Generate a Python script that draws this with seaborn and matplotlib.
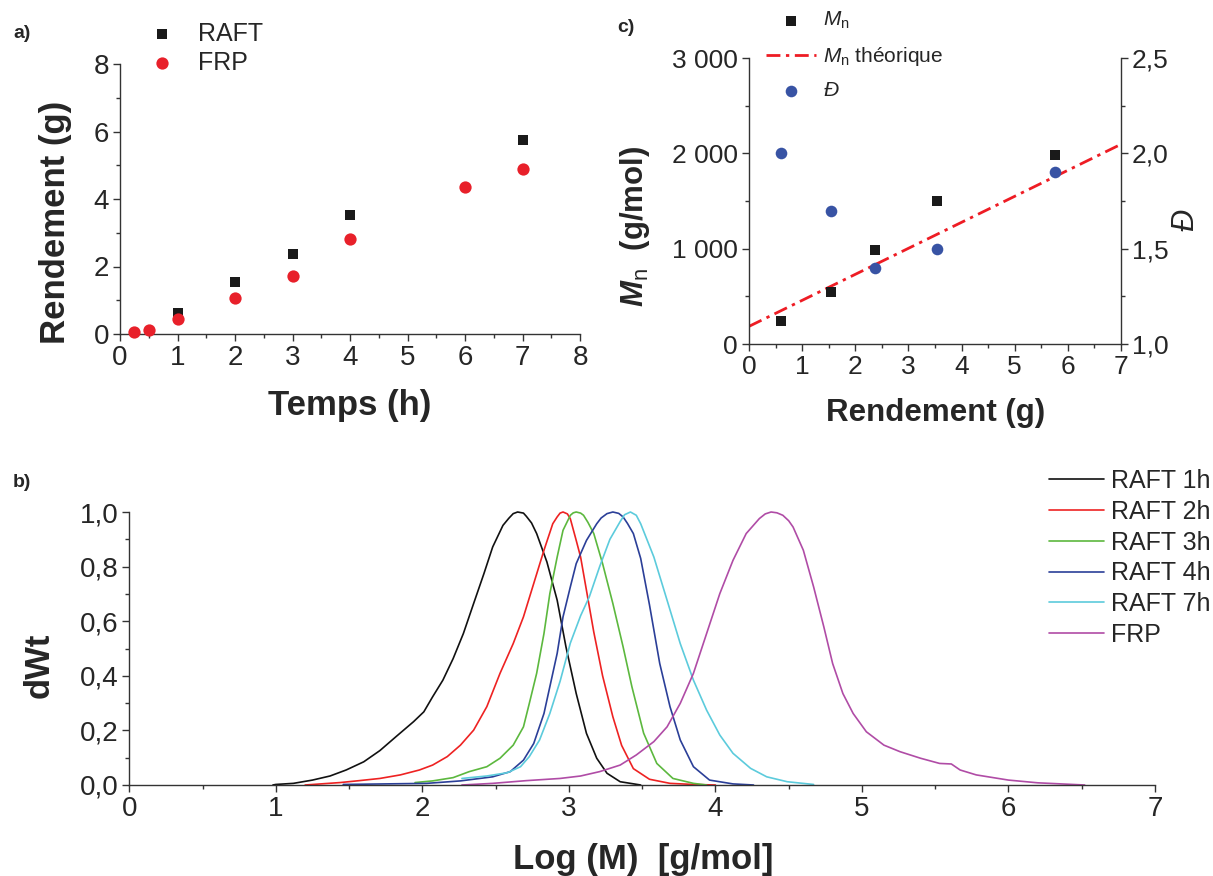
import matplotlib
matplotlib.use("Agg")
import matplotlib.pyplot as plt
from matplotlib.ticker import FixedLocator, MultipleLocator, FixedFormatter
import seaborn as sns

# ---------------- data ----------------
# panel a: yield vs time
raft_time = [1, 2, 3, 4, 7]
raft_yield = [0.61, 1.53, 2.36, 3.53, 5.76]
frp_time = [0.25, 0.5, 1, 2, 3, 4, 6, 7]
frp_yield = [0.05, 0.11, 0.43, 1.08, 1.72, 2.81, 4.36, 4.90]

# panel c: Mn and dispersity vs yield
c_yield = [0.60, 1.54, 2.37, 3.53, 5.76]
mn_values = [240, 545, 990, 1495, 1980]
dispersity = [2.00, 1.70, 1.40, 1.50, 1.90]
mn_theo_x = [0, 7]
mn_theo_y = [185, 2095]

# panel b: GPC traces
raft1h_logm = [0.98, 1.00, 1.12, 1.25, 1.37, 1.48, 1.60, 1.71, 1.82, 1.94, 2.01, 2.07, 2.14, 2.21,
               2.28, 2.35, 2.42, 2.48, 2.55, 2.59, 2.62, 2.65, 2.69, 2.71, 2.745, 2.78, 2.85,
               2.92, 2.98, 3.05, 3.12, 3.19, 3.26, 3.35, 3.49]
raft1h_dwt = [0.0, 0.002, 0.006, 0.018, 0.033, 0.055, 0.085, 0.126, 0.177, 0.232, 0.268, 0.323, 0.384,
              0.463, 0.555, 0.665, 0.774, 0.872, 0.951, 0.977, 0.994, 1.0, 0.996, 0.984, 0.96,
              0.921, 0.817, 0.677, 0.506, 0.335, 0.189, 0.098, 0.043, 0.012, 0.0]

raft2h_logm = [1.20, 1.44, 1.57, 1.71, 1.85, 1.98, 2.07, 2.17, 2.26, 2.35, 2.44, 2.53, 2.62, 2.69,
               2.76, 2.83, 2.89, 2.92, 2.94, 2.96, 2.99, 3.01, 3.05, 3.08, 3.10, 3.17, 3.23, 3.30,
               3.36, 3.44, 3.55, 3.69, 3.85, 4.00]
raft2h_dwt = [0.0, 0.009, 0.016, 0.024, 0.037, 0.055, 0.073, 0.104, 0.146, 0.201, 0.287, 0.409, 0.518,
              0.616, 0.738, 0.86, 0.957, 0.982, 0.996, 1.0, 0.993, 0.975, 0.896, 0.835, 0.774, 0.56,
              0.40, 0.25, 0.145, 0.06, 0.021, 0.006, 0.002, 0.0]

raft3h_logm = [1.95, 2.07, 2.21, 2.32, 2.44, 2.53, 2.62, 2.69, 2.73, 2.78, 2.83, 2.87, 2.92, 2.96,
               3.01, 3.03, 3.05, 3.08, 3.10, 3.13, 3.17, 3.23, 3.30, 3.37, 3.43, 3.51, 3.60, 3.71,
               3.85, 3.94]
raft3h_dwt = [0.009, 0.015, 0.027, 0.049, 0.067, 0.098, 0.146, 0.213, 0.299, 0.409, 0.555, 0.701, 0.835,
              0.933, 0.988, 0.997, 1.0, 0.996, 0.988, 0.962, 0.921, 0.811, 0.665, 0.506, 0.36, 0.19,
              0.079, 0.024, 0.006, 0.0]

raft4h_logm = [1.46, 2.03, 2.26, 2.48, 2.60, 2.69, 2.76, 2.83, 2.87, 2.92, 2.96, 3.01, 3.05, 3.12,
               3.19, 3.22, 3.26, 3.30, 3.34, 3.37, 3.40, 3.44, 3.49, 3.55, 3.62, 3.69, 3.76, 3.85,
               3.96, 4.12, 4.26]
raft4h_dwt = [0.002, 0.006, 0.015, 0.03, 0.049, 0.091, 0.152, 0.262, 0.36, 0.482, 0.616, 0.726, 0.811,
              0.896, 0.957, 0.978, 0.994, 1.0, 0.995, 0.982, 0.958, 0.921, 0.83, 0.66, 0.445, 0.287,
              0.165, 0.067, 0.018, 0.004, 0.0]

raft7h_logm = [2.27, 2.44, 2.58, 2.67, 2.73, 2.80, 2.87, 2.94, 3.01, 3.08, 3.14, 3.21, 3.28, 3.35,
               3.38, 3.42, 3.46, 3.49, 3.58, 3.67, 3.76, 3.85, 3.94, 4.03, 4.12, 4.24, 4.35, 4.49,
               4.67]
raft7h_dwt = [0.024, 0.033, 0.045, 0.067, 0.104, 0.165, 0.262, 0.38, 0.52, 0.62, 0.69, 0.80, 0.90,
              0.965, 0.99, 1.0, 0.988, 0.957, 0.835, 0.677, 0.518, 0.384, 0.274, 0.183, 0.116, 0.061,
              0.03, 0.012, 0.002]

frp_logm = [2.27, 2.48, 2.71, 2.94, 3.08, 3.21, 3.35, 3.46, 3.58, 3.67, 3.76, 3.85, 3.94, 4.03,
            4.12, 4.21, 4.30, 4.34, 4.38, 4.42, 4.46, 4.50, 4.53, 4.60, 4.67, 4.74, 4.80, 4.87,
            4.94, 5.03, 5.15, 5.26, 5.40, 5.53, 5.61, 5.67, 5.78, 6.00, 6.20, 6.52]
frp_dwt = [0.0, 0.006, 0.016, 0.024, 0.033, 0.049, 0.073, 0.11, 0.159, 0.213, 0.299, 0.409, 0.555,
           0.701, 0.823, 0.921, 0.976, 0.993, 1.0, 0.997, 0.988, 0.968, 0.945, 0.86, 0.726, 0.579,
           0.445, 0.335, 0.262, 0.195, 0.146, 0.122, 0.098, 0.079, 0.077, 0.055, 0.037, 0.018,
           0.008, 0.0]

gpc_labels = ["RAFT 1h", "RAFT 2h", "RAFT 3h", "RAFT 4h", "RAFT 7h", "FRP"]

# tick labels
a_xticks = [0, 1, 2, 3, 4, 5, 6, 7, 8]
a_yticks = [0, 2, 4, 6, 8]
c_xticks = [0, 1, 2, 3, 4, 5, 6, 7]
mn_ticks = [0, 1000, 2000, 3000]
mn_ticklabels = ["0", "1 000", "2 000", "3 000"]
d_ticks = [1.0, 1.5, 2.0, 2.5]
d_ticklabels = ["1,0", "1,5", "2,0", "2,5"]
b_xticks = [0, 1, 2, 3, 4, 5, 6, 7]
b_yticks = [0.0, 0.2, 0.4, 0.6, 0.8, 1.0]
b_yticklabels = ["0,0", "0,2", "0,4", "0,6", "0,8", "1,0"]

# ---------------- style ----------------
sns.set_style("ticks")
plt.rcParams["font.family"] = ["Liberation Sans", "DejaVu Sans"]
plt.rcParams["mathtext.fontset"] = "custom"
plt.rcParams["mathtext.rm"] = "Liberation Sans"
plt.rcParams["mathtext.it"] = "Liberation Sans:italic"
plt.rcParams["mathtext.bf"] = "Liberation Sans:bold"
try:
    plt.rcParams["mathtext.bfit"] = "Liberation Sans:bold:italic"
except Exception:
    pass

W, H = 1213, 876
fig = plt.figure(figsize=(W / 100, H / 100), dpi=100)

SPINE = "#333333"


def box(l, t, r, b):
    return [l / W, 1 - b / H, (r - l) / W, (b - t) / H]


def style_axis(ax, fs):
    for s in ax.spines.values():
        s.set_color(SPINE)
        s.set_linewidth(1.0)
    ax.tick_params(which="major", direction="out", length=5, width=1.0, color=SPINE,
                   labelsize=fs, pad=3)
    ax.tick_params(which="minor", direction="out", length=3, width=1.0, color=SPINE)


def place_xlabel(ax, x, y):
    ax.xaxis.label.set_va("center")
    ax.xaxis.label.set_ha("center")
    ax.xaxis.set_label_coords(x / W, 1 - y / H, transform=fig.transFigure)


def place_ylabel(ax, x, y, axis=None):
    axis = axis or ax.yaxis
    axis.label.set_va("center")
    axis.label.set_ha("center")
    axis.set_label_coords(x / W, 1 - y / H, transform=fig.transFigure)


# ---------------- panel a ----------------
ax_a = fig.add_axes(box(120, 64, 580, 334))
sns.scatterplot(x=raft_time, y=raft_yield, marker="s", s=62, color="#1a1a1a", linewidth=0,
                ax=ax_a, label="RAFT", clip_on=False, zorder=3)
sns.scatterplot(x=frp_time, y=frp_yield, marker="o", s=78, color="#e8202a", linewidth=0,
                ax=ax_a, label="FRP", clip_on=False, zorder=4)
ax_a.set_xlim(0, 8)
ax_a.set_ylim(0, 8)
ax_a.xaxis.set_major_locator(FixedLocator(a_xticks))
ax_a.xaxis.set_minor_locator(MultipleLocator(0.5))
ax_a.yaxis.set_major_locator(FixedLocator(a_yticks))
ax_a.yaxis.set_minor_locator(MultipleLocator(1))
sns.despine(ax=ax_a)
style_axis(ax_a, 20)
ax_a.set_xlabel("Temps (h)", fontsize=25, fontweight="bold")
ax_a.set_ylabel("Rendement (g)", fontsize=25, fontweight="bold")
place_xlabel(ax_a, 350, 406)
place_ylabel(ax_a, 55, 222)
ax_a.legend(loc="upper left", bbox_to_anchor=(143 / W, 1 - 22 / H),
            bbox_transform=fig.transFigure, frameon=False, fontsize=18,
            handlelength=1.5, handletextpad=0.7, borderpad=0, borderaxespad=0,
            labelspacing=0.18, markerscale=1.0)
fig.text(13 / W, 1 - 33 / H, "a)", fontsize=14, fontweight="bold", va="center", ha="left")

# ---------------- panel c ----------------
ax_c = fig.add_axes(box(749, 58, 1121, 344))
ax_d = ax_c.twinx()
sns.lineplot(x=mn_theo_x, y=mn_theo_y, ax=ax_c, color="#ee1c24", linewidth=2.0,
             linestyle=(0, (5, 2, 1.2, 2)), label=r"$M_{\mathrm{n}}$ théorique", zorder=2)
sns.scatterplot(x=c_yield, y=mn_values, marker="s", s=62, color="#1a1a1a", linewidth=0,
                ax=ax_c, label=r"$M_{\mathrm{n}}$", zorder=3)
sns.scatterplot(x=c_yield, y=dispersity, marker="o", s=70, color="#3853a4", linewidth=0,
                ax=ax_d, label=r"$Đ$", zorder=3)
ax_c.set_xlim(0, 7)
ax_c.set_ylim(0, 3000)
ax_d.set_ylim(1.0, 2.5)
ax_c.xaxis.set_major_locator(FixedLocator(c_xticks))
ax_c.xaxis.set_minor_locator(MultipleLocator(0.5))
ax_c.yaxis.set_major_locator(FixedLocator(mn_ticks))
ax_c.yaxis.set_major_formatter(FixedFormatter(mn_ticklabels))
ax_c.yaxis.set_minor_locator(MultipleLocator(500))
ax_d.yaxis.set_major_locator(FixedLocator(d_ticks))
ax_d.yaxis.set_major_formatter(FixedFormatter(d_ticklabels))
ax_d.yaxis.set_minor_locator(MultipleLocator(0.25))
ax_c.spines["top"].set_visible(False)
ax_c.spines["right"].set_visible(False)
ax_d.spines["top"].set_visible(False)
ax_d.spines["left"].set_visible(False)
ax_d.spines["bottom"].set_visible(False)
style_axis(ax_c, 19)
style_axis(ax_d, 19)
ax_c.set_xlabel("Rendement (g)", fontsize=22.5, fontweight="bold")
ax_c.set_ylabel(r"$\mathbfit{M}_{\mathrm{n}}$  (g/mol)", fontsize=22.5, fontweight="bold")
ax_d.set_ylabel("Đ", fontsize=22, fontstyle="italic")
place_xlabel(ax_c, 936, 413)
place_ylabel(ax_c, 635, 226)
place_ylabel(ax_d, 1186, 220, axis=ax_d.yaxis)
h1, l1 = ax_c.get_legend_handles_labels()
h2, l2 = ax_d.get_legend_handles_labels()
hmap = dict(zip(l1 + l2, h1 + h2))
order = [r"$M_{\mathrm{n}}$", r"$M_{\mathrm{n}}$ théorique", r"$Đ$"]
if ax_c.get_legend():
    ax_c.get_legend().remove()
if ax_d.get_legend():
    ax_d.get_legend().remove()
ax_d.legend([hmap[k] for k in order], order, loc="upper left",
            bbox_to_anchor=(766 / W, 1 - 10 / H), bbox_transform=fig.transFigure,
            frameon=False, fontsize=15, handlelength=2.4, handletextpad=0.35,
            borderpad=0, borderaxespad=0, labelspacing=0.65)
fig.text(617 / W, 1 - 28 / H, "c)", fontsize=14, fontweight="bold", va="center", ha="left")

# ---------------- panel b ----------------
ax_b = fig.add_axes(box(129.3, 512, 1155, 785))
gpc_x = [raft1h_logm, raft2h_logm, raft3h_logm, raft4h_logm, raft7h_logm, frp_logm]
gpc_y = [raft1h_dwt, raft2h_dwt, raft3h_dwt, raft4h_dwt, raft7h_dwt, frp_dwt]
gpc_colors = ["#111111", "#ee2222", "#5cb83e", "#2b3f98", "#5ccbdc", "#b04ca6"]
for xs, ys, lab, col in zip(gpc_x, gpc_y, gpc_labels, gpc_colors):
    sns.lineplot(x=xs, y=ys, ax=ax_b, color=col, linewidth=1.2, label=lab,
                 estimator=None, sort=False, clip_on=False)
ax_b.set_xlim(0, 7)
ax_b.set_ylim(0, 1.0)
ax_b.xaxis.set_major_locator(FixedLocator(b_xticks))
ax_b.xaxis.set_minor_locator(MultipleLocator(0.5))
ax_b.yaxis.set_major_locator(FixedLocator(b_yticks))
ax_b.yaxis.set_major_formatter(FixedFormatter(b_yticklabels))
ax_b.yaxis.set_minor_locator(MultipleLocator(0.1))
sns.despine(ax=ax_b)
style_axis(ax_b, 20)
ax_b.set_xlabel("Log (M)  [g/mol]", fontsize=25, fontweight="bold")
ax_b.set_ylabel("dWt", fontsize=25, fontweight="bold")
place_xlabel(ax_b, 643, 860)
place_ylabel(ax_b, 39, 665)
ax_b.legend(loc="upper left", bbox_to_anchor=(1049 / W, 1 - 469 / H),
            bbox_transform=fig.transFigure, frameon=False, fontsize=18,
            handlelength=2.2, handletextpad=0.28, borderpad=0, borderaxespad=0,
            labelspacing=0.27)
fig.text(13 / W, 1 - 482 / H, "b)", fontsize=14, fontweight="bold", va="center", ha="left")

fig.savefig("out.png", dpi=100)
